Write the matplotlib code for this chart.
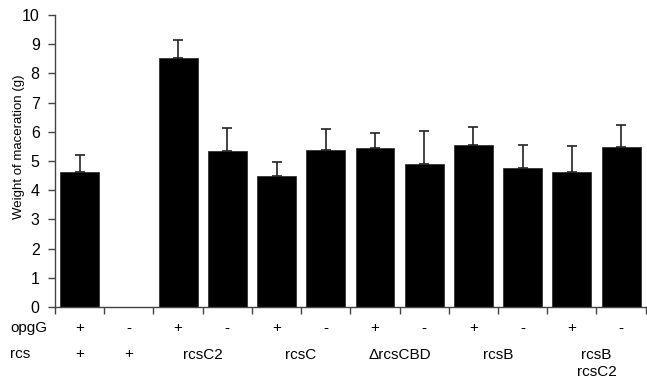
import numpy as np
import matplotlib
matplotlib.use('Agg')
import matplotlib.pyplot as plt
import matplotlib.transforms as mtransforms

plt.rcParams.update({
    'font.family': ['Liberation Sans', 'DejaVu Sans'],
    'font.size': 11,
})

# data
means = [4.64, 0.0, 8.53, 5.33, 4.48, 5.37, 5.43, 4.89, 5.56, 4.77, 4.64, 5.49]
errs = [0.55, 0.0, 0.60, 0.81, 0.50, 0.73, 0.52, 1.14, 0.60, 0.78, 0.86, 0.73]
opgG = ['+', '-', '+', '-', '+', '-', '+', '-', '+', '-', '+', '-']
rcs_single = ['+', '+']                      # first two strains
rcs_groups = ['rcsC2', 'rcsC', '\u0394rcsCBD', 'rcsB', 'rcsB\nrcsC2']

fig = plt.figure(figsize=(6.47, 3.83), dpi=100)
ax = fig.add_axes([0.085, 0.198, 0.913, 0.763])

x = np.arange(len(means)) + 0.5
m = np.array(means)
e = np.array(errs)
ax.bar(x, m, width=0.79, color='black', edgecolor='#333333', linewidth=0.6)
ok = e > 0
ax.errorbar(x[ok], m[ok], yerr=[np.zeros(ok.sum()), e[ok]],
            fmt='none', ecolor='#222222', elinewidth=1.2, capsize=3.5, capthick=1.2)

ax.set_xlim(0, len(means))
ax.set_ylim(0, 10)
ax.set_yticks(range(0, 11))
ax.set_xticks(range(0, len(means) + 1))
ax.set_xticklabels([])
ax.tick_params(axis='both', direction='out', length=5, width=1, color='#444444')
ax.tick_params(axis='y', labelsize=11.5, pad=6)
for s in ['top', 'right']:
    ax.spines[s].set_visible(False)
for s in ['left', 'bottom']:
    ax.spines[s].set_color('#444444')
    ax.spines[s].set_linewidth(1)

fig.text(19 / 647, 1 - 147 / 383, 'Weight of maceration (g)', fontsize=9.5,
         rotation=90, ha='center', va='center')

trans = mtransforms.blended_transform_factory(ax.transData, ax.transAxes)
fig.text(10 / 647, 1 - 328 / 383, 'opgG', fontsize=11, va='center', ha='left')
fig.text(10 / 647, 1 - 354 / 383, 'rcs', fontsize=11, va='center', ha='left')
for xi, lab in zip(x, opgG):
    ax.text(xi, -0.072, lab, transform=trans, fontsize=11, ha='center', va='center')
for xi, lab in zip(x[:2], rcs_single):
    ax.text(xi, -0.161, lab, transform=trans, fontsize=11, ha='center', va='center')
for k, lab in enumerate(rcs_groups):
    xc = 3 + 2 * k
    ax.text(xc, -0.161 + 0.022, lab, transform=trans, fontsize=11, ha='center',
            va='top', linespacing=1.25)

fig.savefig('out.png', dpi=100, facecolor='white')
